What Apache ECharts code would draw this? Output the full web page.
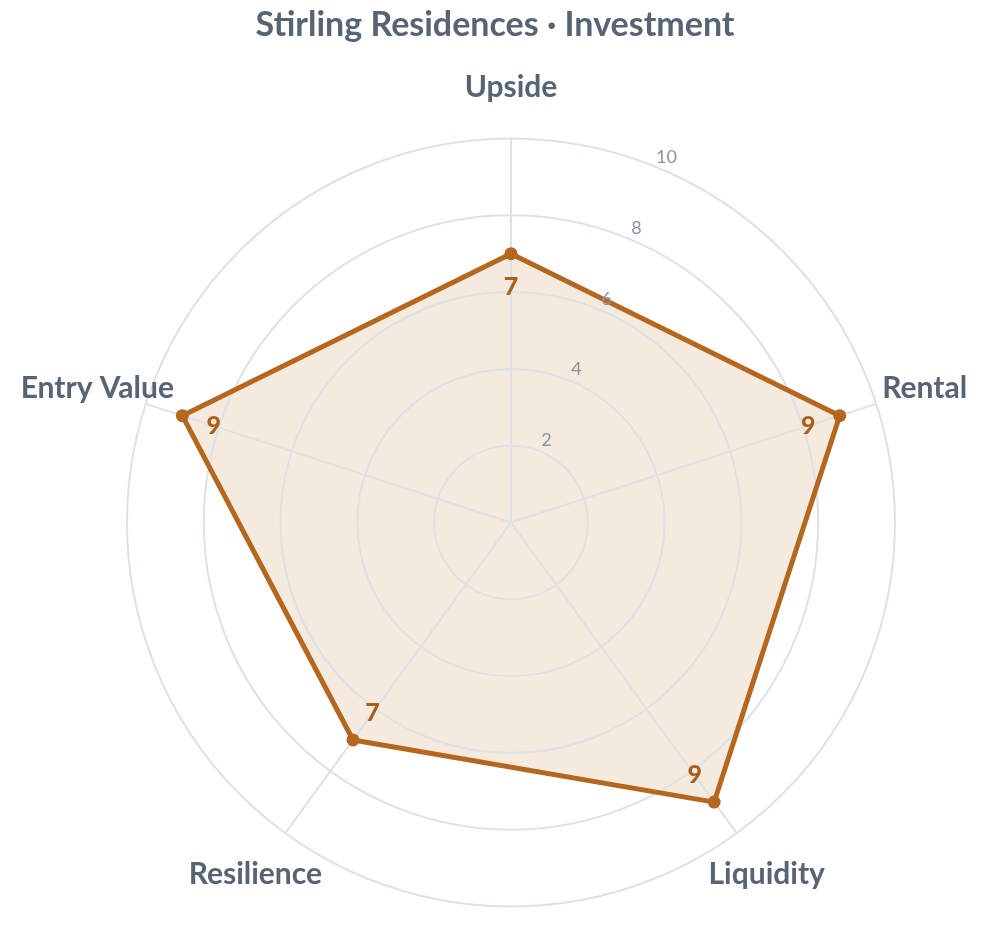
<!DOCTYPE html>
<html>
<head>
<meta charset="utf-8">
<script src="https://cdn.jsdelivr.net/npm/echarts@6/dist/echarts.min.js"></script>
<style>
  html,body{margin:0;padding:0;background:#fff}
  #chart{width:990px;height:930px}
</style>
</head>
<body>
<div id="chart"></div>
<script>
// clockwise from the top, as read on the chart
var categories = ['Upside', 'Rental', 'Liquidity', 'Resilience', 'Entry Value']
var scores = [7, 9, 9, 7, 9]
var maxScore = 10
var tickStep = 2

var FONT = 'Lato, "Noto Sans", sans-serif'
var ink = '#566473'
var brown = '#b5661f'
var gridColor = '#dde2e8'
var center = [511, 522.5]
var radius = 384

// echarts radar goes counter-clockwise, so flip everything after the first one
var order = [0].concat(categories.map((c, i) => i).slice(1).reverse())
var indicator = order.map(i => ({ name: categories[i], max: maxScore }))
var values = order.map(i => scores[i])

// value labels sit ~33px inside each point, toward the centre
var labelPts = values.map((v, k) => {
  var a = (90 + k * 360 / values.length) * Math.PI / 180
  return {
    value: [v, k],
    label: { offset: [-33 * Math.cos(a), 33 * Math.sin(a)] }
  }
})

var mychart = echarts.init(document.getElementById('chart'))
mychart.setOption({
  backgroundColor: '#fff',
  title: {
    text: 'Stirling Residences · Investment',
    left: 'center',
    top: 3,
    textStyle: { fontFamily: FONT, fontSize: 34, fontWeight: 'bold', color: ink }
  },
  radar: {
    z: 2,
    center: center,
    radius: radius,
    shape: 'circle',
    startAngle: 90,
    splitNumber: maxScore / tickStep,
    indicator: indicator,
    nameGap: 51,
    axisName: {
      fontFamily: FONT, fontSize: 30, fontWeight: 'bold', color: ink,
      align: 'center', verticalAlign: 'middle'
    },
    axisLine: { lineStyle: { color: gridColor, width: 2 } },
    splitLine: { lineStyle: { color: gridColor, width: 2 } },
    splitArea: { show: false }
  },
  polar: [
    { center: center, radius: radius },
    { center: [center[0] + 5.5, center[1] - 11.5], radius: radius }
  ],
  angleAxis: [
    { polarIndex: 0, type: 'value', min: 0, max: values.length, startAngle: 90, clockwise: false, show: false },
    { polarIndex: 1, type: 'value', min: 0, max: 360, startAngle: 67, show: false }
  ],
  radiusAxis: [
    { polarIndex: 0, type: 'value', min: 0, max: maxScore, show: false },
    {
      polarIndex: 1, type: 'value', min: 0, max: maxScore, interval: tickStep, z: 6,
      axisLine: { show: false }, axisTick: { show: false }, splitLine: { show: false },
      axisLabel: {
        margin: 0, showMinLabel: false, align: 'center', verticalAlign: 'middle',
        fontFamily: FONT, fontSize: 18, color: '#8a94a2'
      }
    }
  ],
  series: [
    {
      // fill only, kept under the grid lines
      type: 'radar',
      z: 1,
      symbol: 'none',
      silent: true,
      lineStyle: { width: 0 },
      areaStyle: { color: '#b5701f', opacity: 0.15 },
      data: [{ value: values, name: 'Investment' }]
    },
    {
      type: 'radar',
      z: 3,
      symbol: 'circle',
      symbolSize: 13,
      lineStyle: { color: brown, width: 5 },
      itemStyle: { color: brown },
      data: [{ value: values, name: 'Investment' }]
    },
    {
      type: 'scatter',
      coordinateSystem: 'polar',
      polarIndex: 0,
      symbolSize: 0,
      silent: true,
      itemStyle: { color: brown, opacity: 1 },
      label: {
        show: true, position: 'inside',
        formatter: p => p.value[0],
        fontFamily: FONT, fontSize: 25, fontWeight: 900, color: '#ad5f19',
        opacity: 1, textBorderWidth: 0, textShadowBlur: 0
      },
      data: labelPts,
      z: 5
    }
  ]
})
</script>
</body>
</html>
